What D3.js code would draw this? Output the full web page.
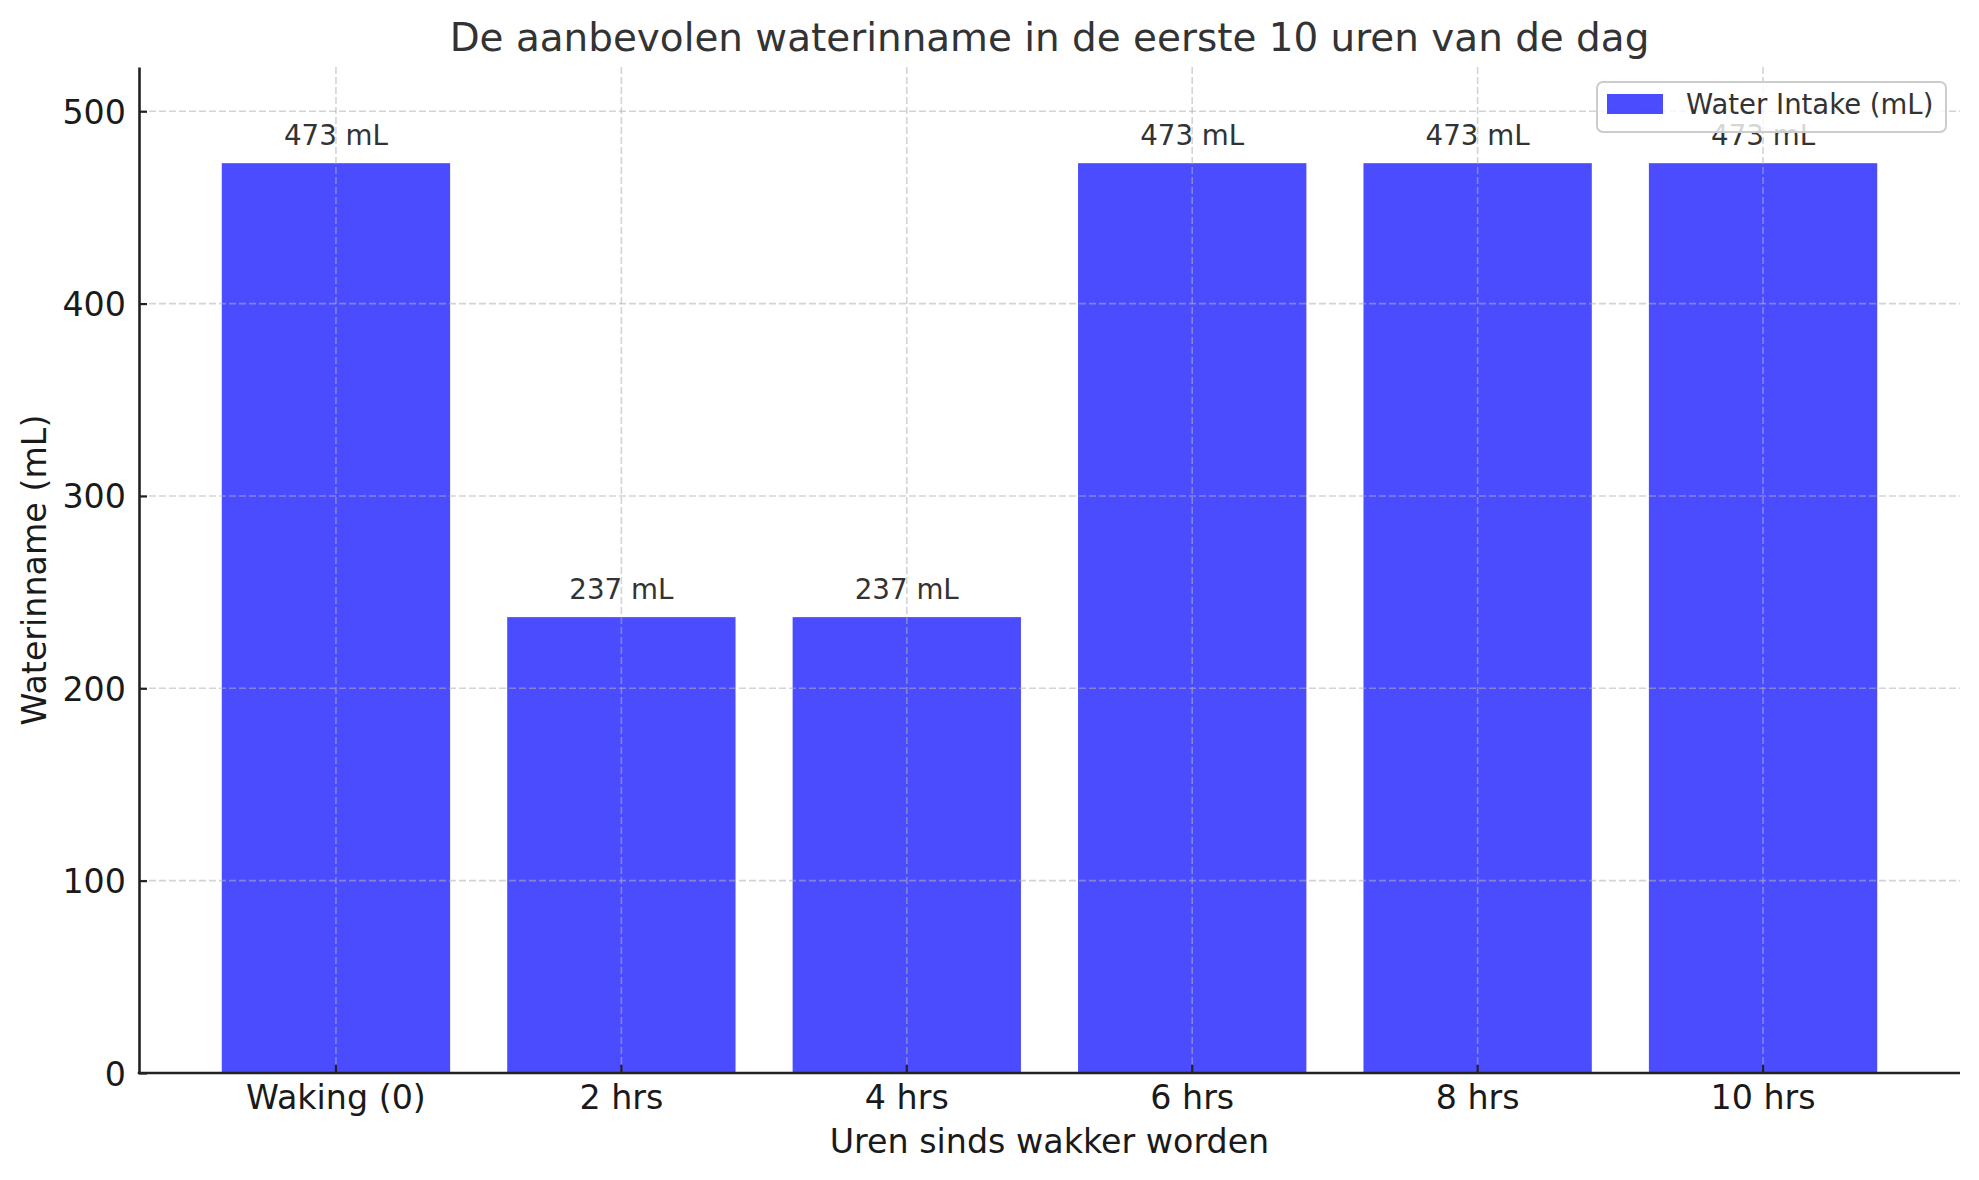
<!DOCTYPE html>
<html>
<head>
<meta charset="utf-8">
<script src="https://cdn.jsdelivr.net/npm/d3@7"></script>
<style>
  html, body { margin: 0; padding: 0; background: #ffffff; }
  svg { display: block; font-family: "DejaVu Sans", sans-serif; }
</style>
</head>
<body>
<script>
// ---- data ----
const categories = ["Waking (0)", "2 hrs", "4 hrs", "6 hrs", "8 hrs", "10 hrs"];
const intake = [473, 237, 237, 473, 473, 473];
const yTicks = [0, 100, 200, 300, 400, 500];
const seriesName = "Water Intake (mL)";
const titleText = "De aanbevolen waterinname in de eerste 10 uren van de dag";
const xLabelText = "Uren sinds wakker worden";
const yLabelText = "Waterinname (mL)";

// ---- layout ----
const W = 1979, H = 1180;
const plot = { left: 139, right: 1960, top: 67, bottom: 1073 };
const barColor = "rgba(0,0,255,0.7)";

const svg = d3.select("body").append("svg").attr("width", W).attr("height", H);

const x = d3.scaleBand()
  .domain(categories)
  .range([plot.left, plot.right])
  .paddingInner(0.2)
  .paddingOuter(0.29);

const yMax = d3.max(intake) + 50;
const y = d3.scaleLinear().domain([0, yMax]).range([plot.bottom, plot.top]);

// bars
svg.append("g").selectAll("rect")
  .data(categories)
  .join("rect")
  .attr("x", d => x(d))
  .attr("width", x.bandwidth())
  .attr("y", (d, i) => y(intake[i]))
  .attr("height", (d, i) => y(0) - y(intake[i]))
  .attr("fill", barColor);

// grid (drawn above bars)
const grid = svg.append("g")
  .attr("stroke", "#b0b0b0")
  .attr("stroke-opacity", 0.55)
  .attr("stroke-width", 1.6)
  .attr("stroke-dasharray", "7,3");
grid.selectAll("line.h")
  .data(yTicks)
  .join("line")
  .attr("class", "h")
  .attr("x1", plot.left).attr("x2", plot.right)
  .attr("y1", d => y(d)).attr("y2", d => y(d));
grid.selectAll("line.v")
  .data(categories)
  .join("line")
  .attr("class", "v")
  .attr("x1", d => x(d) + x.bandwidth() / 2)
  .attr("x2", d => x(d) + x.bandwidth() / 2)
  .attr("y1", plot.top).attr("y2", plot.bottom);

// value labels
svg.append("g").selectAll("text")
  .data(categories)
  .join("text")
  .attr("x", d => x(d) + x.bandwidth() / 2)
  .attr("y", (d, i) => y(intake[i]) - 18)
  .attr("text-anchor", "middle")
  .attr("font-size", 27.7)
  .attr("fill", "#333333")
  .text((d, i) => intake[i] + " mL");

// axes
const yAxis = d3.axisLeft(y).tickValues(yTicks).tickSizeInner(-8).tickSizeOuter(0).tickPadding(13);
const gy = svg.append("g").attr("transform", `translate(${plot.left},0)`).call(yAxis);
gy.select(".domain").attr("stroke", "#222").attr("stroke-width", 2.6);
gy.selectAll(".tick line").attr("stroke", "#222").attr("stroke-width", 2.2);
gy.selectAll(".tick text")
  .attr("font-family", "DejaVu Sans")
  .attr("font-size", 33.3)
  .attr("fill", "#1a1a1a")
  .attr("dy", "0.36em");

const xAxis = d3.axisBottom(x).tickSizeInner(-8).tickSizeOuter(0).tickPadding(14);
const gx = svg.append("g").attr("transform", `translate(0,${plot.bottom})`).call(xAxis);
gx.select(".domain").attr("stroke", "#222").attr("stroke-width", 2.6)
  .attr("d", `M${plot.left - 1.3},0H${plot.right}`);
gx.selectAll(".tick line").attr("stroke", "#222").attr("stroke-width", 2.2);
gx.selectAll(".tick text")
  .attr("font-family", "DejaVu Sans")
  .attr("font-size", 33.3)
  .attr("fill", "#1a1a1a")
  .attr("dy", "0")
  .attr("y", 36);

// titles
svg.append("text")
  .attr("x", (plot.left + plot.right) / 2)
  .attr("y", 51)
  .attr("text-anchor", "middle")
  .attr("font-size", 38.9)
  .attr("fill", "#333333")
  .text(titleText);

svg.append("text")
  .attr("x", (plot.left + plot.right) / 2)
  .attr("y", 1153)
  .attr("text-anchor", "middle")
  .attr("font-size", 33.3)
  .attr("fill", "#1a1a1a")
  .text(xLabelText);

svg.append("text")
  .attr("transform", `translate(46,${(plot.top + plot.bottom) / 2}) rotate(-90)`)
  .attr("text-anchor", "middle")
  .attr("font-size", 33.3)
  .attr("fill", "#1a1a1a")
  .text(yLabelText);

// legend
const lg = svg.append("g");
lg.append("rect")
  .attr("x", 1597).attr("y", 82).attr("width", 349).attr("height", 50)
  .attr("rx", 6).attr("ry", 6)
  .attr("fill", "rgba(255,255,255,0.8)")
  .attr("stroke", "#cccccc").attr("stroke-width", 2);
lg.append("rect")
  .attr("x", 1607).attr("y", 94).attr("width", 56).attr("height", 20)
  .attr("fill", barColor);
lg.append("text")
  .attr("x", 1686).attr("y", 114)
  .attr("font-size", 27.5)
  .attr("fill", "#333333")
  .text(seriesName);
</script>
</body>
</html>
